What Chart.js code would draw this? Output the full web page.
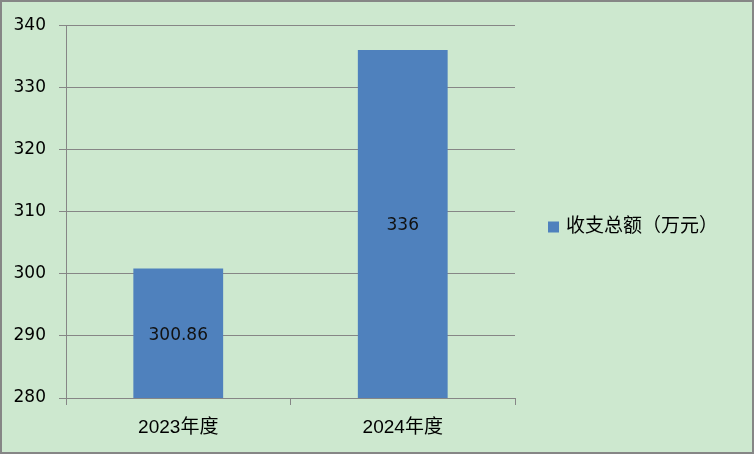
<!DOCTYPE html>
<html>
<head>
<meta charset="utf-8">
<script src="https://cdn.jsdelivr.net/npm/chart.js@4.4.1/dist/chart.umd.min.js"></script>
<style>
  html, body { margin: 0; padding: 0; background: #ffffff; }
  #wrap { position: relative; width: 750px; height: 450px; border: 2px solid #868686; background: #CDE8CF; }
  canvas { display: block; }
</style>
</head>
<body>
<div id="wrap"><canvas id="c" width="750" height="450"></canvas></div>
<script>
const categories = ['2023年度', '2024年度'];
const seriesName = '收支总额（万元）';
const seriesValues = [300.86, 336];
const yTicks = { min: 280, max: 340, step: 10 };

const gridColor = '#868686';
const barColor = '#4F81BD';
const numFont = { family: '"DejaVu Sans", "Noto Sans CJK SC", sans-serif', size: 17 };
const cjkFont = { family: '"Liberation Sans", "Noto Sans CJK SC", sans-serif', size: 19 };

const valueLabels = {
  id: 'valueLabels',
  afterDraw(chart) {
    const ctx = chart.ctx;
    const ca = chart.chartArea;
    ctx.save();
    ctx.font = numFont.size + 'px ' + numFont.family;
    ctx.fillStyle = '#111111';
    ctx.textAlign = 'center';
    ctx.textBaseline = 'middle';
    const meta = chart.getDatasetMeta(0);
    meta.data.forEach((bar, i) => {
      const base = Math.min(bar.base, ca.bottom);
      ctx.fillText(String(chart.data.datasets[0].data[i]), bar.x, (bar.y + base) / 2 + 2);
    });
    // legend, drawn to the right of the plot area
    const bx = ca.right + 33, cy = 225;
    ctx.fillStyle = barColor;
    ctx.fillRect(bx, cy - 5.5, 11, 11);
    ctx.fillStyle = '#000000';
    ctx.textAlign = 'left';
    ctx.font = cjkFont.size + 'px ' + cjkFont.family;
    ctx.fillText(chart.data.datasets[0].label, bx + 18, cy);
    ctx.restore();
  }
};

function draw() {
  new Chart(document.getElementById('c'), {
    type: 'bar',
    data: {
      labels: categories,
      datasets: [{
        label: seriesName,
        data: seriesValues,
        backgroundColor: barColor,
        borderWidth: 0,
        barPercentage: 0.4,
        categoryPercentage: 1.0
      }]
    },
    options: {
      responsive: false,
      animation: false,
      layout: { padding: { top: 23, bottom: 0, left: 0, right: 237 } },
      plugins: {
        tooltip: { enabled: false },
        legend: { display: false }
      },
      scales: {
        x: {
          offset: true,
          grid: { offset: true, drawOnChartArea: false, drawTicks: true, tickLength: 7, color: gridColor },
          border: { color: gridColor, width: 1 },
          ticks: { color: '#000000', font: cjkFont, padding: 11 },
          afterFit(s) { s.height = 54; }
        },
        y: {
          min: yTicks.min,
          max: yTicks.max,
          grid: { color: gridColor, tickLength: 7, lineWidth: 1 },
          border: { color: gridColor, width: 1 },
          ticks: { stepSize: yTicks.step, color: '#000000', font: numFont, padding: 13 },
          afterFit(s) { s.width = 64; }
        }
      }
    },
    plugins: [valueLabels]
  });
}

Promise.all([
  document.fonts.load('19px "Liberation Sans"', '2023'),
  document.fonts.load('19px "Noto Sans CJK SC"', '收支总额（万元）年度'),
  document.fonts.load('17px "DejaVu Sans"', '300.86')
]).then(draw, draw);
</script>
</body>
</html>
